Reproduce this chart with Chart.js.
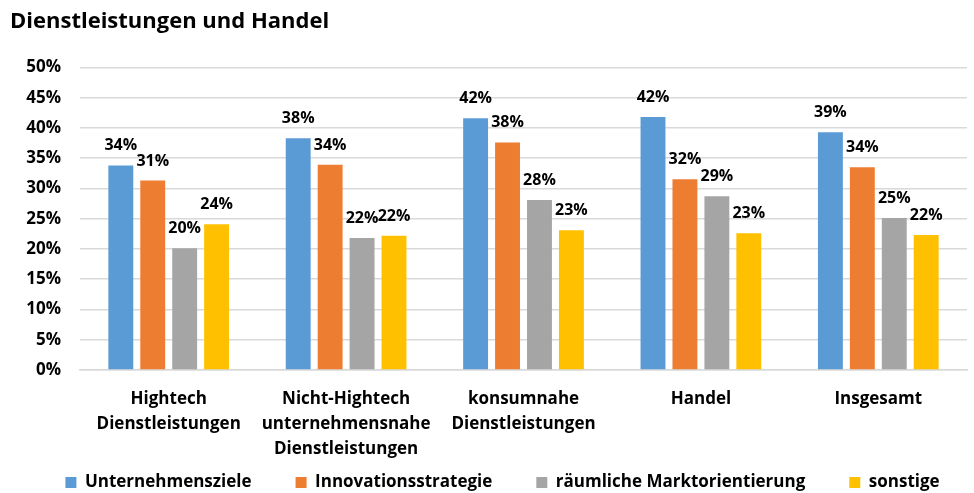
<!DOCTYPE html>
<html>
<head>
<meta charset="utf-8">
<script src="https://cdn.jsdelivr.net/npm/chart.js@4/dist/chart.umd.min.js"></script>
<style>
  html, body { margin: 0; padding: 0; background: #fff; }
  #box { width: 974px; height: 493px; position: relative; }
</style>
</head>
<body>
<div id="box"><canvas id="chart"></canvas></div>
<script>
// ---------- Data ----------
const categories = [
  ["Hightech", "Dienstleistungen"],
  ["Nicht-Hightech", "unternehmensnahe", "Dienstleistungen"],
  ["konsumnahe", "Dienstleistungen"],
  "Handel",
  "Insgesamt",
];
const unternehmensziele    = [33.8, 38.3, 41.6, 41.8, 39.3];
const innovationsstrategie = [31.3, 33.9, 37.6, 31.5, 33.5];
const marktorientierung    = [20.1, 21.8, 28.1, 28.7, 25.1];
const sonstige             = [24.1, 22.2, 23.1, 22.6, 22.3];
const yTicks = [0, 5, 10, 15, 20, 25, 30, 35, 40, 45, 50];

const FONT = "'Open Sans', sans-serif";
const GRID = "#d9d9d9";

// Percent labels above each bar, positioned from the bar elements.
const barLabels = {
  id: "barLabels",
  afterDatasetsDraw(chart) {
    const ctx = chart.ctx;
    ctx.save();
    ctx.font = `bold 16px ${FONT}`;
    ctx.fillStyle = "#000";
    ctx.textAlign = "center";
    ctx.textBaseline = "alphabetic";
    chart.data.datasets.forEach((ds, di) => {
      chart.getDatasetMeta(di).data.forEach((bar, i) => {
        ctx.fillText(Math.round(ds.data[i]) + "%", bar.x, bar.y - 15);
      });
    });
    ctx.restore();
  }
};

// Nudge boxes after layout: title in from the left edge, legend a bit right
// of centre and up into the space below the category labels (the negative
// bottom padding lets its box hang partly off-canvas).
const nudge = {
  id: "nudge",
  afterLayout(chart) {
    const t = chart.titleBlock;
    t.left += 10; t.right += 10;
    const lg = chart.legend;
    lg.left += 19; lg.right += 19;
    lg.top -= 30; lg.bottom -= 30;
  }
};

new Chart(document.getElementById("chart"), {
  type: "bar",
  data: {
    labels: categories,
    datasets: [
      { label: "Unternehmensziele", data: unternehmensziele, backgroundColor: "#5b9bd5" },
      { label: "Innovationsstrategie", data: innovationsstrategie, backgroundColor: "#ed7d31" },
      { label: "räumliche Marktorientierung", data: marktorientierung, backgroundColor: "#a5a5a5" },
      { label: "sonstige", data: sonstige, backgroundColor: "#ffc000" },
    ]
  },
  options: {
    responsive: true, maintainAspectRatio: false, animation: false,
    datasets: { bar: { categoryPercentage: 0.72, barPercentage: 0.78 } },
    layout: { padding: { left: 0, right: 7, top: 0, bottom: -38 } },
    plugins: {
      tooltip: { enabled: false },
      title: {
        display: true, text: "Dienstleistungen und Handel", align: "start",
        color: "#000", font: { family: FONT, size: 22, weight: "bold" },
        padding: { top: 9, bottom: 32 }
      },
      legend: {
        position: "bottom",
        labels: {
          color: "#000", boxWidth: 11, boxHeight: 11, padding: 44,
          font: { family: FONT, size: 17, weight: "bold" }
        }
      }
    },
    scales: {
      y: {
        min: 0, max: 50,
        afterBuildTicks: s => { s.ticks = yTicks.map(v => ({ value: v })); },
        afterFit: s => { s.width = 80; },
        border: { display: false },
        grid: { color: GRID, drawTicks: false, lineWidth: 1.5 },
        ticks: {
          color: "#000", padding: 19,
          font: { family: FONT, size: 17, weight: "bold" },
          callback: v => v + "%"
        }
      },
      x: {
        afterFit: s => { s.height = 90; },
        border: { color: GRID, width: 1.5 },
        grid: { display: false, drawTicks: false },
        ticks: {
          color: "#000", padding: 17, maxRotation: 0, autoSkip: false,
          font: { family: FONT, size: 17, weight: "bold", lineHeight: 1.47 }
        }
      }
    }
  },
  plugins: [barLabels, nudge]
});
</script>
</body>
</html>
